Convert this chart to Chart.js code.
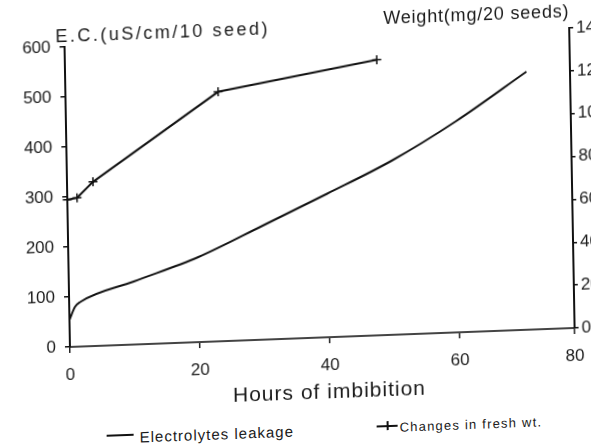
<!DOCTYPE html>
<html>
<head>
<meta charset="utf-8">
<script src="https://cdn.jsdelivr.net/npm/chart.js@4.4.1/dist/chart.umd.min.js"></script>
<style>
html,body{margin:0;padding:0;background:#fff;overflow:hidden;width:591px;height:447px;}
#frame{position:absolute;left:0;top:0;width:640px;height:470px;
  transform-origin:70px 347px;transform:matrix(1,-0.0376,0.018,1,0,0);
  font-family:"Liberation Sans",Arial,sans-serif;color:#1a1a1a;}
#chart{position:absolute;left:0;top:0;}
.lbl{position:absolute;white-space:nowrap;line-height:1;}
#ecTitle{left:61px;top:27px;font-size:18px;letter-spacing:2.5px;}
#wtTitle{left:389px;top:21px;font-size:18px;letter-spacing:0.8px;}
#xTitle{left:232px;top:390px;font-size:21px;letter-spacing:1px;}
#leg1{left:138px;top:432px;font-size:15px;letter-spacing:1px;}
#leg2{left:398px;top:433px;font-size:13px;letter-spacing:1.2px;}
.bar{position:absolute;background:#111;}
</style>
</head>
<body>
<div id="frame">
  <canvas id="chart" width="640" height="400"></canvas>
  <div class="lbl" id="ecTitle">E.C.(uS/cm/10 seed)</div>
  <div class="lbl" id="wtTitle">Weight(mg/20 seeds)</div>
  <div class="lbl" id="xTitle">Hours of imbibition</div>
  <div class="bar" style="left:105px;top:436px;width:27px;height:2px;"></div>
  <div class="lbl" id="leg1">Electrolytes leakage</div>
  <div class="bar" style="left:375px;top:437px;width:21px;height:1.5px;"></div>
  <div class="bar" style="left:385px;top:433px;width:1.5px;height:9px;"></div>
  <div class="lbl" id="leg2">Changes in fresh wt.</div>
</div>
<script>
// hours of imbibition (x) and readings
const elecHours = [0, 0.9, 1.7, 10, 20, 30, 40, 50, 60, 71];
const elecValues = [54, 80, 89, 126, 170, 228, 287, 348, 422, 516];
const wtHours = [0, 1.5, 4, 23.5, 48];
const wtValues = [68.7, 69.4, 76.6, 116.4, 128.6];

const hourTicks = [0, 20, 40, 60, 80];
const hourEnd = 77.7; // the drawn right axis stands a bit short of 80
const ecMax = 600, ecStep = 100;
const wtMax = 140, wtStep = 20;

const pts = (xs, ys) => xs.map((x, i) => ({x: x, y: ys[i]}));
const tickFont = {family: '"Liberation Sans", Arial, sans-serif', size: 17};
const ink = '#1a1a1a';

new Chart(document.getElementById('chart'), {
  type: 'line',
  data: {
    datasets: [
      {
        label: 'Electrolytes leakage',
        data: pts(elecHours, elecValues),
        yAxisID: 'y',
        borderColor: '#111',
        borderWidth: 2,
        pointRadius: 0,
        cubicInterpolationMode: 'monotone',
        clip: false
      },
      {
        label: 'Changes in fresh wt.',
        data: pts(wtHours, wtValues),
        yAxisID: 'y1',
        borderColor: '#111',
        borderWidth: 2,
        tension: 0,
        pointStyle: 'cross',
        pointRadius: 4.5,
        pointBorderWidth: 1.5,
        pointBorderColor: '#111',
        clip: false
      }
    ]
  },
  options: {
    responsive: false,
    animation: false,
    layout: {padding: {top: 47}},
    plugins: {legend: {display: false}, tooltip: {enabled: false}},
    scales: {
      x: {
        type: 'linear', min: 0, max: hourEnd,
        afterBuildTicks: s => { s.ticks = hourTicks.map(v => ({value: Math.min(v, hourEnd)})); },
        afterFit: s => { s.height = 53; },
        ticks: {callback: (v, i) => hourTicks[i], autoSkip: false, maxRotation: 0, padding: 12, font: tickFont, color: ink},
        grid: {drawOnChartArea: false, tickLength: 6, color: '#222', lineWidth: 1.5},
        border: {color: '#444', width: 2}
      },
      y: {
        position: 'left', min: 0, max: ecMax,
        afterFit: s => { s.width = 70; },
        ticks: {stepSize: ecStep, padding: 9, font: tickFont, color: ink},
        grid: {drawOnChartArea: false, tickLength: 5, color: '#111', lineWidth: 1.5},
        border: {color: '#111', width: 2}
      },
      y1: {
        position: 'right', min: 0, max: wtMax,
        afterFit: s => { s.width = 65; },
        ticks: {stepSize: wtStep, padding: 3, font: tickFont, color: ink},
        grid: {drawOnChartArea: false, tickLength: 4, color: '#111', lineWidth: 1.5},
        border: {color: '#111', width: 2}
      }
    }
  }
});
</script>
</body>
</html>
